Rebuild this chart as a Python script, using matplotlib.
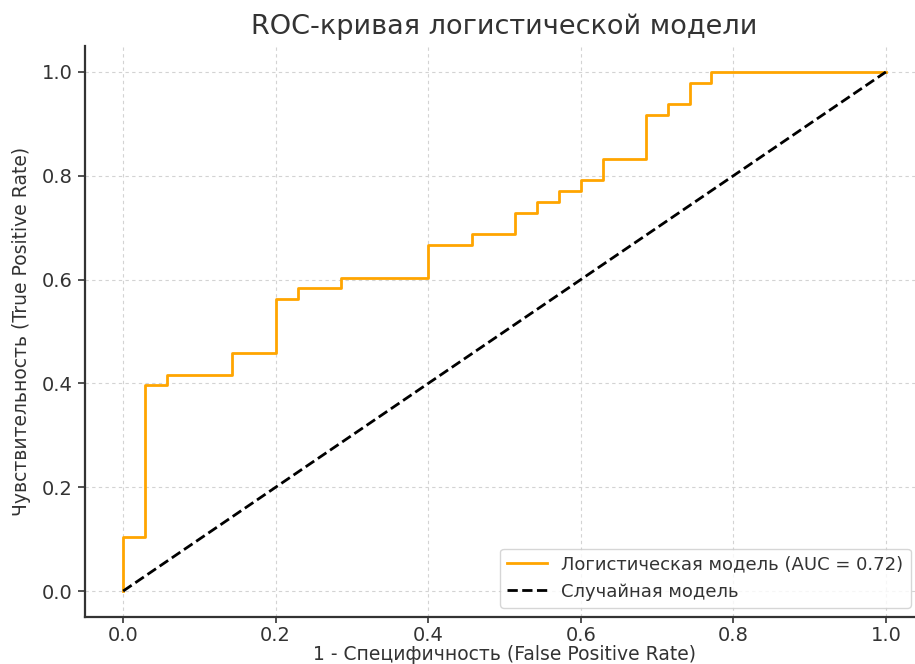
import matplotlib
matplotlib.use("Agg")
import matplotlib.pyplot as plt

fpr = [0.0, 0.0, 0.029, 0.029, 0.057, 0.057, 0.143, 0.143, 0.2, 0.2,
       0.229, 0.229, 0.286, 0.286, 0.4, 0.4, 0.457, 0.457, 0.514, 0.514,
       0.543, 0.543, 0.571, 0.571, 0.6, 0.6, 0.629, 0.629, 0.686, 0.686,
       0.714, 0.714, 0.743, 0.743, 0.771, 0.771, 1.0]
tpr = [0.0, 0.104, 0.104, 0.396, 0.396, 0.417, 0.417, 0.458, 0.458, 0.5625,
       0.5625, 0.583, 0.583, 0.604, 0.604, 0.667, 0.667, 0.6875, 0.6875, 0.729,
       0.729, 0.75, 0.75, 0.771, 0.771, 0.792, 0.792, 0.833, 0.833, 0.917,
       0.917, 0.9375, 0.9375, 0.979, 0.979, 1.0, 1.0]
auc_value = 0.72
diag = [0.0, 1.0]
ticks = [0.0, 0.2, 0.4, 0.6, 0.8, 1.0]

text_color = "#333333"
plt.rcParams['font.family'] = ['DejaVu Sans']

fig = plt.figure(figsize=(9.15, 6.64), dpi=100)
ax = fig.add_axes([85/915, 47/664, (924-85)/915, (617-46)/664])

ax.plot(fpr, tpr, color="#FFA500", lw=2,
        label=f"Логистическая модель (AUC = {auc_value:.2f})")
ax.plot(diag, diag, color="black", lw=2, linestyle="--", label="Случайная модель")

ax.set_xlim(-0.05, 1.05)
ax.set_ylim(-0.05, 1.05)
ax.set_xticks(ticks)
ax.set_yticks(ticks)
ax.tick_params(labelsize=14, colors=text_color, length=5, width=1.2, pad=4)
ax.tick_params(axis="x", length=4, pad=2.5)
ax.grid(True, linestyle=(0, (3, 3)), color="#d3d3d3", linewidth=0.8)
for s in ["top", "right"]:
    ax.spines[s].set_visible(False)
for s in ["left", "bottom"]:
    ax.spines[s].set_color(text_color)
    ax.spines[s].set_linewidth(1.6)

ax.set_title("ROC-кривая логистической модели", fontsize=19.5, color=text_color, pad=9)
ax.set_xlabel("1 - Специфичность (False Positive Rate)", fontsize=13.5, color=text_color, labelpad=0)
ax.set_ylabel("Чувствительность (True Positive Rate)", fontsize=13.5, color=text_color, labelpad=8)
leg = ax.legend(loc="lower right", fontsize=13, labelcolor=text_color, framealpha=0.8,
                bbox_to_anchor=(0.995, 0.0), borderpad=0.4, handlelength=2.2)

fig.savefig("out.png", dpi=100)
